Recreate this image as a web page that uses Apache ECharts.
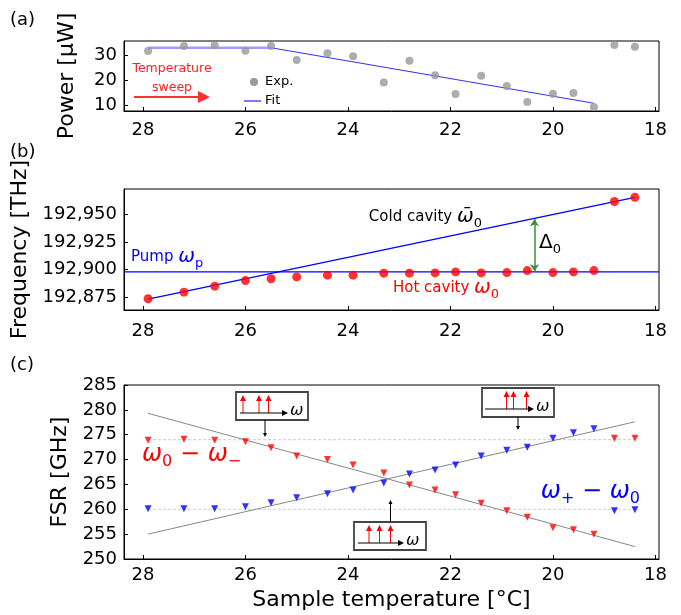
<!DOCTYPE html>
<html><head><meta charset="utf-8">
<script src="https://cdn.jsdelivr.net/npm/echarts@6/dist/echarts.min.js"></script>
<style>html,body{margin:0;padding:0;background:#fff}#c{width:681px;height:615px}</style>
</head><body><div id="c"></div>
<script>
// ---- data ----
const temps = [27.9, 27.2, 26.6, 26.0, 25.5, 25.0, 24.4, 23.9, 23.3, 22.8, 22.3, 21.9, 21.4, 20.9, 20.5, 20.0, 19.6, 19.2, 18.8, 18.4];
const powerExp = [31.7, 33.7, 34.0, 31.8, 33.7, 28.1, 30.8, 29.6, 19.1, 27.8, 22.0, 14.5, 21.8, 17.7, 11.3, 14.6, 14.9, 9.3, 34.1, 33.4];
const fitFlatT = [27.9, 25.5];
const fitFlatP = [33.0, 33.0];
const fitSlopeT = [25.5, 19.2];
const fitSlopeP = [33.0, 10.8];
const hotFreq = [192.8738, 192.8798, 192.8852, 192.8902, 192.8918, 192.8935, 192.8951, 192.8951, 192.8969, 192.8969, 192.8971, 192.8980, 192.8971, 192.8974, 192.8992, 192.8974, 192.8980, 192.8992, 192.9614, 192.9652];
const coldT = [27.9, 18.4];
const coldF = [192.8735, 192.9652];
const pumpT = [28.37, 17.93];
const pumpFreq = 192.898;
const deltaT = 20.36;
const deltaF = [192.9455, 192.8985];
const fsrMinus = [273.9, 274.1, 273.9, 273.6, 272.4, 270.7, 270.0, 268.9, 267.3, 264.9, 263.9, 262.9, 261.2, 259.7, 258.4, 256.3, 255.9, 255.0, 274.3, 274.3];
const fsrPlus = [260.1, 260.1, 260.1, 260.5, 261.3, 262.3, 263.1, 263.9, 265.3, 267.1, 267.9, 268.9, 270.7, 271.9, 272.5, 274.3, 275.4, 276.2, 259.7, 259.9];
const fsrFitT = [27.9, 18.4];
const fsrFitMinus = [279.3, 252.5];
const fsrFitPlus = [255.0, 277.6];
const refLevels = [274, 260];
const xTicks = [28, 26, 24, 22, 20, 18];
const powerTicks = [10, 20, 30];
const freqTicks = [192.875, 192.9, 192.925, 192.95];

const F = 'DejaVu Sans';
const zip = (a, b) => a.map((v, i) => [v, b[i]]);

function xAxisCfg(gi, margin, name) {
  return {
    type: 'value', gridIndex: gi, inverse: true, min: 17.93, max: 28.37,
    name: name || '', nameLocation: 'middle', nameGap: 30,
    nameTextStyle: {fontSize: 22, fontFamily: F, color: '#000'},
    axisLine: {show: true, onZero: false, lineStyle: {color: '#000', width: 1}},
    axisTick: {show: true, inside: true, length: 4, customValues: xTicks, lineStyle: {color: '#000'}},
    axisLabel: {customValues: xTicks, fontSize: 18, fontFamily: F, color: '#000', margin: margin},
    splitLine: {show: false}
  };
}
function yAxisCfg(gi, min, max, name, extra) {
  const a = {
    type: 'value', gridIndex: gi, min: min, max: max,
    name: name, nameLocation: 'middle', nameGap: 46,
    nameTextStyle: {fontSize: 22, fontFamily: F, color: '#000'},
    axisLine: {show: true, onZero: false, lineStyle: {color: '#000', width: 1}},
    axisTick: {show: true, inside: true, length: 4, lineStyle: {color: '#000'}},
    axisLabel: {fontSize: 18, fontFamily: F, color: '#000', margin: 7},
    splitLine: {show: false}
  };
  return Object.assign(a, extra || {});
}

const gridBase = {left: 124, width: 535, show: true, borderColor: '#000', borderWidth: 1, backgroundColor: 'transparent'};

function arrowEls(x1, y1, x2, y2, color, lw, hl, hw) {
  const dx = x2 - x1, dy = y2 - y1, L = Math.hypot(dx, dy), ux = dx / L, uy = dy / L;
  const bx = x2 - ux * hl, by = y2 - uy * hl, px = -uy, py = ux;
  return [
    {type: 'line', z: 100, shape: {x1: x1, y1: y1, x2: bx, y2: by}, style: {stroke: color, lineWidth: lw}},
    {type: 'polygon', z: 100, shape: {points: [[x2, y2], [bx + px * hw / 2, by + py * hw / 2], [bx - px * hw / 2, by - py * hw / 2]]}, style: {fill: color}}
  ];
}
function inset(x, y, w, h, redXs, axisY, ax1, ax2) {
  let els = [{type: 'rect', z: 99, shape: {x: x, y: y, width: w, height: h}, style: {fill: '#fff', stroke: '#444', lineWidth: 1.8}}];
  redXs.forEach(rx => { els = els.concat(arrowEls(rx, axisY, rx, y + 3, '#ff0000', 1, 6, 6)); });
  els = els.concat(arrowEls(ax1, axisY, ax2, axisY, '#000', 1.2, 6, 6));
  els.push({type: 'text', z: 101, x: ax2 + 2, y: axisY - 2, style: {text: 'ω', font: 'italic 16px "DejaVu Sans"', fill: '#000', align: 'left', verticalAlign: 'middle'}});
  return els;
}

const mathRich = (size, sub, color) => ({
  t: {fontSize: 15, fontFamily: F, fill: color, lineHeight: size + 6, verticalAlign: 'middle'},
  m: {fontSize: size, fontFamily: F, fontStyle: 'italic', fill: color, lineHeight: size + 6, verticalAlign: 'middle'},
  u: {fontSize: size, fontFamily: F, fill: color, lineHeight: size + 6, verticalAlign: 'middle'},
  s: {fontSize: sub, fontFamily: F, fill: color, lineHeight: size + 6, verticalAlign: 'bottom'}
});

let graphics = [
  {type: 'text', x: 10, y: 20, style: {text: '(a)', font: '18px "DejaVu Sans"', fill: '#000', verticalAlign: 'middle'}},
  {type: 'text', x: 10, y: 152, style: {text: '(b)', font: '18px "DejaVu Sans"', fill: '#000', verticalAlign: 'middle'}},
  {type: 'text', x: 10, y: 365, style: {text: '(c)', font: '18px "DejaVu Sans"', fill: '#000', verticalAlign: 'middle'}},
  // panel a annotations
  {type: 'text', x: 172, y: 69, style: {text: 'Temperature', font: '12.5px "DejaVu Sans"', fill: '#ff2020', align: 'center', verticalAlign: 'middle'}},
  {type: 'text', x: 172, y: 88, style: {text: 'sweep', font: '12.5px "DejaVu Sans"', fill: '#ff2020', align: 'center', verticalAlign: 'middle'}},
  {type: 'circle', shape: {cx: 254, cy: 82, r: 4}, style: {fill: '#999'}},
  {type: 'text', x: 265, y: 82, style: {text: 'Exp.', font: '13px "DejaVu Sans"', fill: '#000', verticalAlign: 'middle'}},
  {type: 'line', shape: {x1: 244, y1: 101, x2: 261, y2: 101}, style: {stroke: '#2020ff', lineWidth: 1.2}},
  {type: 'text', x: 265, y: 101, style: {text: 'Fit', font: '13px "DejaVu Sans"', fill: '#000', verticalAlign: 'middle'}},
  // panel b annotations
  {type: 'text', x: 482, y: 217, style: {text: '{t|Cold cavity }{m|ω̄}{s|0}', rich: mathRich(20, 13, '#000'), align: 'right', verticalAlign: 'middle'}},
  {type: 'text', x: 131, y: 257, style: {text: '{t|Pump }{m|ω}{s|p}', rich: mathRich(20, 13, '#0000ff'), align: 'left', verticalAlign: 'middle'}},
  {type: 'text', x: 393, y: 288, style: {text: '{t|Hot cavity }{m|ω}{s|0}', rich: mathRich(20, 13, '#ff0000'), align: 'left', verticalAlign: 'middle'}},
  {type: 'text', x: 539, y: 243, style: {text: '{u|Δ}{s|0}', rich: mathRich(20, 13, '#000'), align: 'left', verticalAlign: 'middle'}},
  // panel c annotations
  {type: 'text', x: 142, y: 455, style: {text: '{m|ω}{s|0}{u| − }{m|ω}{s|−}', rich: mathRich(24, 16, '#ff0000'), align: 'left', verticalAlign: 'middle'}},
  {type: 'text', x: 640, y: 492, style: {text: '{m|ω}{s|+}{u| − }{m|ω}{s|0}', rich: mathRich(24, 16, '#0000ff'), align: 'right', verticalAlign: 'middle'}}
];
graphics = graphics.concat(arrowEls(134, 97, 210, 97, '#ff3030', 2, 12, 12));
graphics = graphics.concat(inset(236, 392, 72, 28, [243, 259, 268.5], 413, 240, 288));
graphics = graphics.concat(arrowEls(265, 420, 265, 437, '#000', 1, 4, 4));
graphics = graphics.concat(inset(482, 388, 72, 29, [506.5, 513.5, 526.5], 409, 485, 534));
graphics = graphics.concat(arrowEls(518, 417, 518, 430, '#000', 1, 4, 4));
graphics = graphics.concat(inset(354, 522, 72, 28, [369, 379.5, 390.5], 543, 358, 404));
graphics = graphics.concat(arrowEls(390.5, 522, 390.5, 500, '#000', 1, 4, 4));

const option = {
  animation: false,
  backgroundColor: '#fff',
  grid: [
    Object.assign({top: 41, height: 70}, gridBase),
    Object.assign({top: 189, height: 121}, gridBase),
    Object.assign({top: 385, height: 174}, gridBase)
  ],
  xAxis: [xAxisCfg(0, 10), xAxisCfg(1, 12), xAxisCfg(2, 7, 'Sample temperature [°C]')],
  yAxis: [
    yAxisCfg(0, 7.7, 35.7, 'Power [µW]', {axisTick: {show: true, inside: true, length: 4, customValues: powerTicks, lineStyle: {color: '#000'}}, axisLabel: {customValues: powerTicks, fontSize: 18, fontFamily: F, color: '#000', margin: 7}}),
    yAxisCfg(1, 192.8637, 192.9727, 'Frequency [THz]', {axisTick: {show: true, inside: true, length: 4, customValues: freqTicks, lineStyle: {color: '#000'}}, axisLabel: {customValues: freqTicks, fontSize: 18, fontFamily: F, color: '#000', margin: 7, formatter: v => v.toFixed(3).replace('.', ',')}}),
    yAxisCfg(2, 250, 285, 'FSR [GHz]', {interval: 5})
  ],
  graphic: graphics,
  series: [
    {type: 'line', xAxisIndex: 0, yAxisIndex: 0, data: zip(fitFlatT, fitFlatP), symbol: 'none', lineStyle: {color: 'rgba(60,60,255,0.5)', width: 2.5}, z: 3},
    {type: 'line', xAxisIndex: 0, yAxisIndex: 0, data: zip(fitSlopeT, fitSlopeP), symbol: 'none', lineStyle: {color: '#3030ff', width: 1}, z: 3},
    {type: 'scatter', xAxisIndex: 0, yAxisIndex: 0, data: zip(temps, powerExp), symbol: 'circle', symbolSize: 8, itemStyle: {color: '#999999'}, z: 4},
    {type: 'line', xAxisIndex: 1, yAxisIndex: 1, data: zip(coldT, coldF), symbol: 'none', lineStyle: {color: '#0000ff', width: 1.2}, z: 3},
    {type: 'line', xAxisIndex: 1, yAxisIndex: 1, data: zip(pumpT, [pumpFreq, pumpFreq]), symbol: 'none', lineStyle: {color: '#0000ff', width: 1.2}, z: 3},
    {type: 'line', xAxisIndex: 1, yAxisIndex: 1, data: [], symbol: 'none',
      markLine: {silent: true, symbol: ['arrow', 'arrow'], symbolSize: [7, 7], label: {show: false}, lineStyle: {color: '#3a8f3a', width: 1.5, type: 'solid'},
        data: [[{coord: [deltaT, deltaF[0]]}, {coord: [deltaT, deltaF[1]]}]]}},
    {type: 'scatter', xAxisIndex: 1, yAxisIndex: 1, data: zip(temps, hotFreq), symbol: 'circle', symbolSize: 9, itemStyle: {color: '#ff0000'}, z: 4},
    {type: 'line', xAxisIndex: 2, yAxisIndex: 2, data: zip(fsrFitT, fsrFitMinus), symbol: 'none', lineStyle: {color: '#888888', width: 1}, z: 2},
    {type: 'line', xAxisIndex: 2, yAxisIndex: 2, data: zip(fsrFitT, fsrFitPlus), symbol: 'none', lineStyle: {color: '#888888', width: 1}, z: 2},
    {type: 'line', xAxisIndex: 2, yAxisIndex: 2, data: zip(fsrFitT, [refLevels[0], refLevels[0]]), symbol: 'none', lineStyle: {color: '#cccccc', width: 1, type: [3, 2]}, z: 1},
    {type: 'line', xAxisIndex: 2, yAxisIndex: 2, data: zip(fsrFitT, [refLevels[1], refLevels[1]]), symbol: 'none', lineStyle: {color: '#cccccc', width: 1, type: [3, 2]}, z: 1},
    {type: 'scatter', xAxisIndex: 2, yAxisIndex: 2, data: zip(temps, fsrMinus), symbol: 'triangle', symbolRotate: 180, symbolSize: 7, itemStyle: {color: '#ff0000'}, z: 4},
    {type: 'scatter', xAxisIndex: 2, yAxisIndex: 2, data: zip(temps, fsrPlus), symbol: 'triangle', symbolRotate: 180, symbolSize: 7, itemStyle: {color: '#0000ff'}, z: 4}
  ]
};
const chart = echarts.init(document.getElementById('c'), null, {renderer: 'canvas'});
chart.setOption(option);
</script></body></html>
